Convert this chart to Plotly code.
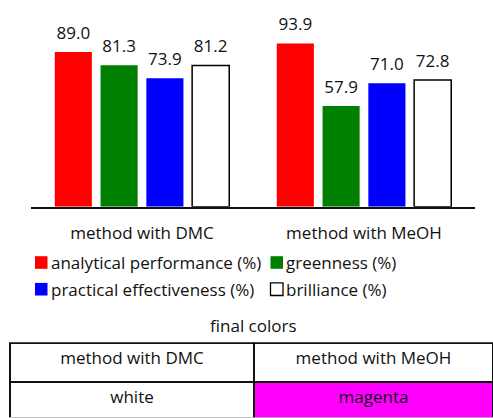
import plotly.graph_objects as go

categories = ["method with DMC", "method with MeOH"]
series_names = ["analytical performance (%)", "greenness (%)",
                "practical effectiveness (%)", "brilliance (%)"]
analytical = [89.0, 93.9]
greenness = [81.3, 57.9]
practical = [73.9, 71.0]
brilliance = [81.2, 72.8]
series_values = [analytical, greenness, practical, brilliance]
bar_colors = ["#ff0000", "#008000", "#0000ff", "#ffffff"]
line_colors = ["#ff0000", "#008000", "#0000ff", "#000000"]

table_header = ["method with DMC", "method with MeOH"]
table_row = ["white", "magenta"]
table_fill = ["#ffffff", "#ff00ff"]
table_title = "final colors"

W, H = 493, 418
FONT = "Open Sans"
TXT = "#111111"


def px(x):
    return x / W


def py(y):
    return (H - y) / H


fig = go.Figure()
for i, (name, vals) in enumerate(zip(series_names, series_values)):
    fig.add_trace(go.Bar(
        x=categories, y=vals, name=name,
        marker=dict(color=bar_colors[i],
                    line=dict(color=line_colors[i], width=1.5 if i == 3 else 0)),
        offsetgroup=str(i), hoverinfo="skip", showlegend=False,
    ))
for i, vals in enumerate(series_values):
    fig.add_trace(go.Scatter(
        x=categories, y=vals, mode="markers+text",
        text=[f"{v:.1f}" for v in vals], textposition="top center",
        textfont=dict(family=FONT, size=17, color=TXT),
        marker=dict(size=13, opacity=0), offsetgroup=str(i),
        showlegend=False, hoverinfo="skip", cliponaxis=False,
    ))

fig.add_trace(go.Table(
    domain=dict(x=[px(10), 1], y=[0, py(343.3)]),
    columnwidth=[244, 239],
    header=dict(values=table_header, align="center", height=39,
                line=dict(color=TXT, width=2), fill=dict(color="#ffffff"),
                font=dict(family=FONT, size=17, color=TXT)),
    cells=dict(values=[[v] for v in table_row], align="center", height=36,
               line=dict(color=TXT, width=2), fill=dict(color=[[c] for c in table_fill]),
               font=dict(family=FONT, size=17, color=TXT)),
))

fig.add_annotation(text=table_title, xref="paper", yref="paper",
                   x=px(254), y=py(325), xanchor="center", yanchor="middle",
                   showarrow=False, font=dict(family=FONT, size=17, color=TXT))

# legend (two rows, two columns)
legend_cols = [35, 270.5]
legend_rows = [262.5, 289.2]
order = [(0, 0, 0), (1, 0, 1), (2, 1, 0), (3, 1, 1)]
for idx, r, c in order:
    x0 = legend_cols[c]
    yc = legend_rows[r]
    fig.add_shape(type="rect", xref="paper", yref="paper",
                  x0=px(x0), x1=px(x0 + 12.5), y0=py(yc - 6.3), y1=py(yc + 6.3),
                  fillcolor=bar_colors[idx],
                  line=dict(color=line_colors[idx], width=1.3 if idx == 3 else 0))
    fig.add_annotation(text=series_names[idx], xref="paper", yref="paper",
                       x=px(x0 + 13.5), y=py(yc), xanchor="left", yanchor="middle",
                       showarrow=False, font=dict(family=FONT, size=17, color=TXT))

fig.update_layout(
    width=W, height=H, margin=dict(l=0, r=0, t=0, b=0),
    paper_bgcolor="white", plot_bgcolor="white",
    barmode="group", bargap=0.175, bargroupgap=0.19,
    scattermode="group", scattergap=0.175,
    font=dict(family=FONT, size=17, color=TXT),
    showlegend=False,
    xaxis=dict(domain=[px(31), px(475)], showline=True, linecolor=TXT, linewidth=2,
               ticks="", showgrid=False, tickfont=dict(family=FONT, size=17, color=TXT),
               ticklabelstandoff=10),
    yaxis=dict(domain=[py(206.7), py(32.8)], range=[0, 100], visible=False,
               showgrid=False),
)

fig.write_html(
    "out.html",
    config={"displayModeBar": False, "staticPlot": True},
    post_script="document.body.style.margin='0';document.body.style.padding='0';"
                "document.body.style.overflow='hidden';",
)
